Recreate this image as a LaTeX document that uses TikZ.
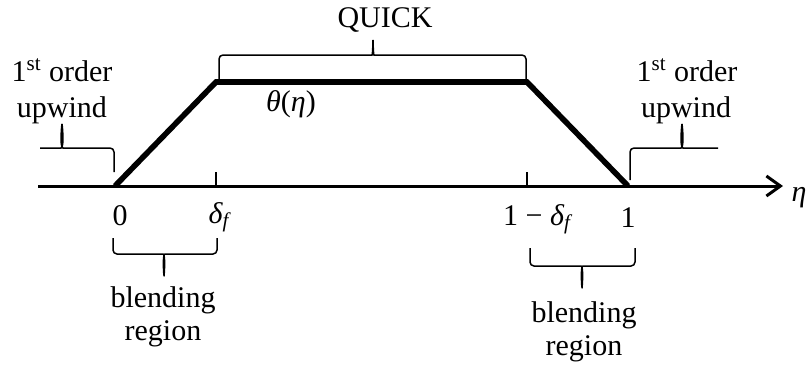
\documentclass[tikz,border=0pt]{standalone}
\usepackage{fontspec}
\setmainfont{Liberation Serif}
\usetikzlibrary{arrows.meta}
\begin{document}
\begin{tikzpicture}[x=0.5pt,y=-0.5pt,
  txt/.style={inner sep=0pt,anchor=base,font=\fontsize{15}{18}\selectfont},
  brc/.style={line width=0.75pt,rounded corners=2pt},
  axisline/.style={line width=1.5pt,-{Straight Barb[length=7pt,width=10pt]}},
  curve/.style={line width=2.8pt,line join=miter},
  tickline/.style={line width=0.6pt}]
\useasboundingbox (0,0) rectangle (810,371);
% axis and trapezoid
\coordinate (ax0) at (38,186);
\coordinate (axE) at (783,186);
\coordinate (p0) at (115,186);
\coordinate (p1) at (216,82);
\coordinate (p2) at (527,82);
\coordinate (p3) at (628,186);
\coordinate (t1) at (216,172);
\coordinate (t2) at (527,172);
\draw[axisline] (ax0) -- (axE);
\draw[curve] (p0) -- (p1) -- (p2) -- (p3);
\draw[tickline] (t1) -- (t1 |- p0);
\draw[tickline] (t2) -- (t2 |- p0);
% braces
\draw[brc] (219,80) -- (219,55) -- (368,55) to[out=0,in=90] (373,44) to[out=90,in=180] (378,55) -- (526,55) -- (526,80);
\draw[brc] (40,148) -- (57,148) to[out=0,in=90] (62,129) to[out=90,in=180] (67,148) -- (114,148) -- (114,172);
\draw[brc] (630,180) -- (630,148) -- (677,148) to[out=0,in=90] (682,129) to[out=90,in=180] (687,148) -- (718,148);
\draw[brc] (113,238) -- (113,254) -- (159,254) to[out=0,in=-90] (164,271) to[out=-90,in=180] (169,254) -- (217,254) -- (217,238);
\draw[brc] (530,248) -- (530,266) -- (577,266) to[out=0,in=-90] (582,283) to[out=-90,in=180] (587,266) -- (635,266) -- (635,248);
% texts
\node[txt] (quick) at (385,27) {QUICK};
\node[txt] (theta) at (291,111) {\itshape θ\upshape(\itshape η\upshape)};
\node[txt] (ordL) at (62,81) {1\textsuperscript{st} order};
\node[txt] (upL) at (62,117) {upwind};
\node[txt] (ordR) at (687,81) {1\textsuperscript{st} order};
\node[txt] (upR) at (686,117) {upwind};
\node[txt] (l0) at (120,225) {0};
\node[txt] (ld) at (219,223) {\itshape δ\textsubscript{f}};
\node[txt] (l1d) at (537,225) {1 − \itshape δ\textsubscript{f}};
\node[txt] (l1) at (628,227) {1};
\node[txt] (eta) at (799,201) {\itshape η};
\node[txt] (blL) at (163,307) {blending};
\node[txt] (rgL) at (163,340) {region};
\node[txt] (blR) at (584,322) {blending};
\node[txt] (rgR) at (584,355) {region};
\end{tikzpicture}
\end{document}
